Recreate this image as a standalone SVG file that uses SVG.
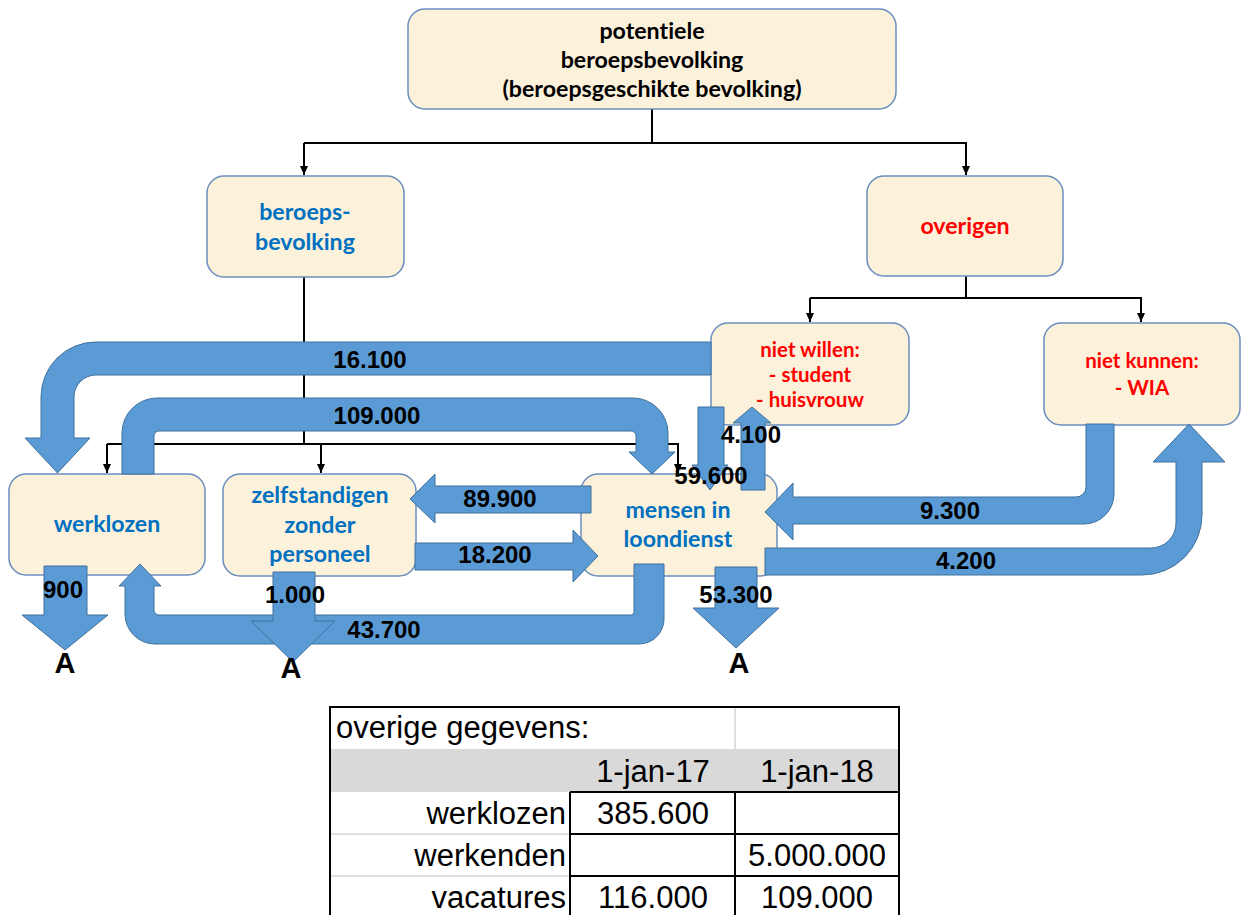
<svg xmlns="http://www.w3.org/2000/svg" width="1241" height="915" viewBox="0 0 1241 915">
<defs>
<marker id="ah" markerWidth="10" markerHeight="10" refX="9" refY="5" orient="auto" markerUnits="userSpaceOnUse">
<path d="M0,1 L9,5 L0,9 Z" fill="#000"/>
</marker>
<style>
.box{fill:#FCF1DA;stroke:#6A8EBE;stroke-width:1.5}
.conn{fill:none;stroke:#000;stroke-width:2;marker-end:url(#ah)}
.line{fill:none;stroke:#000;stroke-width:2}
.flow{fill:#5B9BD5;stroke:#41719C;stroke-width:1}
.nt{font-family:Lato,'Liberation Sans',sans-serif;font-weight:bold;font-size:23.2px;text-anchor:middle;font-variant-ligatures:none}
.sm{font-size:20.5px}
.blk{fill:#000}
.blue{fill:#0070C0}
.red{fill:#FF0000}
.lbl{font-family:'Liberation Sans',Arial,sans-serif;font-weight:bold;font-size:24px;fill:#000;text-anchor:middle}
.A{font-size:29px}
.tt{font-family:'Liberation Sans',Arial,sans-serif;font-size:31px;fill:#000}
.tb{stroke:#000;stroke-width:2}
.tg{stroke:#D4D4D4;stroke-width:1.5}
</style>
</defs>
<rect width="1241" height="915" fill="#fff"/>

<g id="connectors">
<path class="line" d="M652 109 V143 H304"/>
<path class="conn" d="M304 143 V175"/>
<path class="conn" d="M652 143 H966 V175"/>
<path class="line" d="M966 276 V298 H810"/>
<path class="conn" d="M810 298 V322"/>
<path class="conn" d="M966 298 H1141 V322"/>
<path class="line" d="M304 277 V444 H107"/>
<path class="conn" d="M107 444 V473"/>
<path class="conn" d="M304 444 H321 V473"/>
<path class="conn" d="M321 444 H678 V473"/>
</g>

<g id="n-top"><rect class="box" x="408" y="9" width="488" height="100" rx="17"/>
<text class="nt blk" x="652" y="39">potentiele</text>
<text class="nt blk" x="652" y="68">beroepsbevolking</text>
<text class="nt blk" x="652" y="97">(beroepsgeschikte bevolking)</text></g>

<g id="n-beroeps"><rect class="box" x="207" y="176" width="197" height="101" rx="17"/>
<text class="nt blue" x="305" y="220">beroeps-</text>
<text class="nt blue" x="305" y="250">bevolking</text></g>

<g id="n-overigen"><rect class="box" x="867" y="176" width="196" height="100" rx="17"/>
<text class="nt red" x="965" y="234">overigen</text></g>

<g id="n-nietwillen"><rect class="box" x="711" y="323" width="198" height="102" rx="17"/>
<text class="nt sm red" x="810" y="357">niet willen:</text>
<text class="nt sm red" x="810" y="382">- student</text>
<text class="nt sm red" x="810" y="407">- huisvrouw</text></g>

<g id="n-nietkunnen"><rect class="box" x="1044" y="323" width="196" height="102" rx="17"/>
<text class="nt sm red" x="1142" y="368">niet kunnen:</text>
<text class="nt sm red" x="1142" y="395">- WIA</text></g>

<g id="n-werklozen"><rect class="box" x="9" y="474" width="196" height="101" rx="17"/>
<text class="nt blue" x="107" y="532">werklozen</text></g>

<g id="n-zzp"><rect class="box" x="223" y="474" width="193" height="102" rx="17"/>
<text class="nt blue" x="320" y="503">zelfstandigen</text>
<text class="nt blue" x="320" y="533">zonder</text>
<text class="nt blue" x="320" y="562">personeel</text></g>

<g id="n-loondienst"><rect class="box" x="581" y="474" width="196" height="102" rx="17"/>
<text class="nt blue" x="678" y="518">mensen in</text>
<text class="nt blue" x="678" y="547">loondienst</text></g>

<g id="flows">
<path class="flow" d="M711 342 L96 342 A55 55 0 0 0 41 397 L41 438 L25 438 L57.5 473 L90 438 L74 438 L74 397 A22 22 0 0 1 96 375 L711 375 Z"/>
<path class="flow" d="M122 474 L122 433 A35 35 0 0 1 157 398 L633 398 A35 35 0 0 1 668 433 L668 452 L675 452 L652 474 L629 452 L636 452 L636 436 A5 5 0 0 0 631 431 L159 431 A5 5 0 0 0 154 436 L154 474 Z"/>
<path class="flow" d="M698 407 L698 465 L692 465 L710 490 L728 465 L724 465 L724 407 Z"/>
<path class="flow" d="M741 490 L741 423 L733 423 L752 407 L771 423 L765 423 L765 490 Z"/>
<path class="flow" d="M591 486 L435 486 L435 474 L410 499 L435 523 L435 513 L591 513 Z"/>
<path class="flow" d="M415 543 L573 543 L573 530 L598 556 L573 582 L573 570 L415 570 Z"/>
<path class="flow" d="M1086 424 L1086 487 A10 10 0 0 1 1076 497 L793 497 L793 483 L765 512 L793 540 L793 524 L1084 524 A30 30 0 0 0 1114 494 L1114 424 Z"/>
<path class="flow" d="M765 548 L1151 548 A25 25 0 0 0 1176 523 L1176 462 L1153 462 L1189 424 L1225 462 L1202 462 L1202 515 A60 60 0 0 1 1142 575 L765 575 Z"/>
<path class="flow" d="M634 564 L634 612 A3 3 0 0 1 631 615 L159 615 A5 5 0 0 1 154 610 L154 586 L161 586 L140 564 L119 586 L125 586 L125 614 A30 30 0 0 0 155 644 L639 644 A25 25 0 0 0 664 619 L664 564 Z"/>
<path class="flow" d="M44 566 L44 615 L22 615 L65 650 L108 615 L87 615 L87 566 Z"/>
<path class="flow" d="M273 572 L273 621 L251 621 L293 662 L335 621 L315 621 L315 572 Z"/>
<path class="flow" d="M715 567 L715 608 L693 608 L736 648 L779 608 L757 608 L757 567 Z"/>
</g>

<g id="flow-labels">
<text class="lbl" x="370" y="368">16.100</text>
<text class="lbl" x="377" y="424">109.000</text>
<text class="lbl" x="711" y="484">59.600</text>
<text class="lbl" x="751" y="443">4.100</text>
<text class="lbl" x="500" y="507">89.900</text>
<text class="lbl" x="495" y="563">18.200</text>
<text class="lbl" x="950" y="519">9.300</text>
<text class="lbl" x="966" y="569">4.200</text>
<text class="lbl" x="63" y="598">900</text>
<text class="lbl" x="295" y="603">1.000</text>
<text class="lbl" x="384" y="638">43.700</text>
<text class="lbl" x="736" y="603">53.300</text>
<text class="lbl A" x="65" y="673">A</text>
<text class="lbl A" x="291" y="678">A</text>
<text class="lbl A" x="739" y="673">A</text>
</g>

<g id="table">
<rect x="330" y="749" width="569" height="43" fill="#D9D9D9"/>
<line class="tg" x1="735" y1="708" x2="735" y2="749"/>
<line class="tg" x1="330" y1="834" x2="570" y2="834"/>
<line class="tg" x1="330" y1="876" x2="570" y2="876"/>
<line class="tb" x1="329" y1="707" x2="900" y2="707"/>
<line class="tb" x1="330" y1="707" x2="330" y2="915"/>
<line class="tb" x1="899" y1="707" x2="899" y2="915"/>
<line class="tb" x1="570" y1="792" x2="570" y2="915"/>
<line class="tb" x1="735" y1="792" x2="735" y2="915"/>
<line class="tb" x1="570" y1="792" x2="899" y2="792"/>
<line class="tb" x1="570" y1="834" x2="899" y2="834"/>
<line class="tb" x1="570" y1="876" x2="899" y2="876"/>
<text class="tt" x="336" y="738">overige gegevens:</text>
<text class="tt" x="653" y="782" text-anchor="middle">1-jan-17</text>
<text class="tt" x="817" y="782" text-anchor="middle">1-jan-18</text>
<text class="tt" x="566" y="824" text-anchor="end">werklozen</text>
<text class="tt" x="653" y="824" text-anchor="middle">385.600</text>
<text class="tt" x="566" y="866" text-anchor="end">werkenden</text>
<text class="tt" x="817" y="866" text-anchor="middle">5.000.000</text>
<text class="tt" x="566" y="908" text-anchor="end">vacatures</text>
<text class="tt" x="653" y="908" text-anchor="middle">116.000</text>
<text class="tt" x="817" y="908" text-anchor="middle">109.000</text>
</g>
</svg>
